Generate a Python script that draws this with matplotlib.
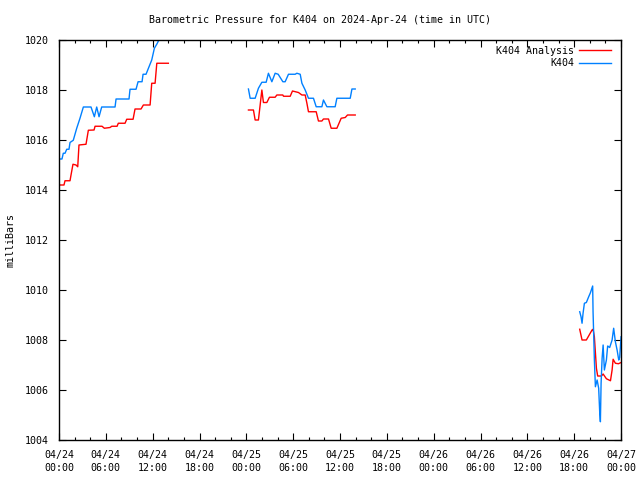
import numpy as np
import matplotlib
matplotlib.use('Agg')
import matplotlib.pyplot as plt
from matplotlib.ticker import MultipleLocator

# hours since 2024-04-24 00:00 UTC, three data segments each
ana_hours = [
    [0.13, 0.64, 0.77, 1.41, 1.54, 1.79, 2.18, 2.40, 2.56, 3.46, 3.76, 4.49, 4.62, 5.51,
     5.81, 6.54, 6.76, 7.44, 7.60, 8.46, 8.68, 9.49, 9.74, 10.51, 10.81, 11.67, 11.88,
     12.31, 12.53, 14.01],
    [24.27, 24.91, 25.13, 25.55, 25.77, 25.99, 26.19, 26.63, 26.96, 27.69, 27.91, 28.68,
     28.76, 29.62, 29.91, 30.68, 31.12, 31.54, 31.76, 31.96, 32.95, 33.24, 33.68, 33.88,
     34.53, 34.87, 35.60, 36.15, 36.67, 36.96, 37.95],
    [66.71, 67.01, 67.56, 68.29, 68.42, 68.59, 68.85, 69.01, 69.49, 69.71, 70.13, 70.65,
     70.86, 70.99, 71.28, 71.67, 72.01],
]
ana_mb = [
    [1014.2, 1014.2, 1014.37, 1014.37, 1014.6, 1015.03, 1015.0, 1014.93, 1015.8, 1015.83,
     1016.39, 1016.4, 1016.55, 1016.55, 1016.47, 1016.5, 1016.55, 1016.55, 1016.67,
     1016.67, 1016.83, 1016.83, 1017.24, 1017.24, 1017.4, 1017.4, 1018.27, 1018.27,
     1019.07, 1019.07],
    [1017.2, 1017.2, 1016.8, 1016.8, 1017.4, 1018.0, 1017.5, 1017.5, 1017.71, 1017.71,
     1017.8, 1017.8, 1017.75, 1017.75, 1017.96, 1017.9, 1017.8, 1017.8, 1017.47, 1017.13,
     1017.13, 1016.76, 1016.76, 1016.84, 1016.84, 1016.47, 1016.47, 1016.87, 1016.9,
     1017.0, 1017.0],
    [1008.43, 1008.0, 1008.0, 1008.4, 1008.43, 1008.13, 1006.87, 1006.56, 1006.56,
     1006.64, 1006.45, 1006.37, 1006.8, 1007.23, 1007.07, 1007.05, 1007.1],
]

obs_hours = [
    [0.13, 0.38, 0.55, 0.77, 0.99, 1.28, 1.41, 1.83, 2.27, 2.69, 3.12, 4.10, 4.53, 4.83,
     5.13, 5.47, 7.18, 7.31, 8.97, 9.10, 9.87, 10.13, 10.64, 10.77, 11.15, 11.88, 12.22,
     12.56, 12.95, 13.20],
    [24.27, 24.49, 25.13, 25.55, 25.99, 26.54, 26.83, 27.27, 27.69, 28.08, 28.68, 28.97,
     29.40, 30.26, 30.47, 30.90, 31.12, 31.54, 31.96, 32.60, 32.95, 33.68, 33.88, 34.32,
     35.38, 35.60, 37.31, 37.53, 37.95],
    [66.71, 66.88, 67.01, 67.14, 67.31, 67.56, 67.86, 68.08, 68.37, 68.42, 68.59, 68.72,
     68.94, 69.14, 69.27, 69.36, 69.45, 69.58, 69.71, 69.87, 70.13, 70.29, 70.55, 70.86,
     71.06, 71.28, 71.50, 71.71, 71.83, 72.01],
]
obs_mb = [
    [1015.24, 1015.24, 1015.47, 1015.47, 1015.63, 1015.63, 1015.9, 1015.99, 1016.47,
     1016.87, 1017.32, 1017.32, 1016.93, 1017.32, 1016.93, 1017.32, 1017.32, 1017.64,
     1017.64, 1018.03, 1018.03, 1018.33, 1018.33, 1018.63, 1018.63, 1019.2, 1019.67,
     1019.85, 1020.1, 1020.3],
    [1018.04, 1017.67, 1017.67, 1018.07, 1018.31, 1018.31, 1018.67, 1018.33, 1018.67,
     1018.63, 1018.33, 1018.33, 1018.63, 1018.63, 1018.67, 1018.63, 1018.27, 1018.0,
     1017.67, 1017.67, 1017.33, 1017.33, 1017.6, 1017.33, 1017.33, 1017.67, 1017.67,
     1018.04, 1018.04],
    [1009.13, 1008.93, 1008.67, 1009.07, 1009.47, 1009.5, 1009.73, 1009.89, 1010.16,
     1009.13, 1007.2, 1006.13, 1006.4, 1006.07, 1005.13, 1004.73, 1006.27, 1007.27,
     1007.8, 1006.8, 1007.2, 1007.76, 1007.7, 1008.0, 1008.47, 1007.93, 1007.6, 1007.2,
     1007.3, 1008.13],
]

tick_labels = ['04/24\n00:00', '04/24\n06:00', '04/24\n12:00', '04/24\n18:00',
               '04/25\n00:00', '04/25\n06:00', '04/25\n12:00', '04/25\n18:00',
               '04/26\n00:00', '04/26\n06:00', '04/26\n12:00', '04/26\n18:00',
               '04/27\n00:00']


def join(parts):
    # NaN between segments so the line breaks at data gaps
    out = []
    for i, p in enumerate(parts):
        if i:
            out.append(np.nan)
        out.extend(p)
    return np.array(out)


plt.rcParams['font.family'] = 'DejaVu Sans Mono'
plt.rcParams['font.size'] = 7.2

fig = plt.figure(figsize=(6.4, 4.8), dpi=100)
ax = fig.add_axes([59 / 640, 40 / 480, 562 / 640, 400 / 480])

ax.plot(join(ana_hours), join(ana_mb), color='#ff0000', lw=1, label='K404 Analysis')
ax.plot(join(obs_hours), join(obs_mb), color='#0080ff', lw=1, label='K404')

ax.set_xlim(0, 72)
ax.set_ylim(1004, 1020)
ax.set_xticks(np.arange(0, 73, 6))
ax.set_xticklabels(tick_labels, linespacing=1.45)
ax.xaxis.set_minor_locator(MultipleLocator(2))
ax.yaxis.set_major_locator(MultipleLocator(2))
ax.tick_params(which='both', direction='in', top=True, right=True, width=0.8)
ax.tick_params(which='major', length=5, pad=7)
ax.tick_params(which='minor', length=2.5)
ax.tick_params(axis='y', pad=7)
for s in ax.spines.values():
    s.set_linewidth(1)

ax.set_ylabel('milliBars')
ax.yaxis.set_label_coords(-43 / 562, 0.5)
fig.text(0.5, 1 - 20 / 480, 'Barometric Pressure for K404 on 2024-Apr-24 (time in UTC)',
         ha='center', va='center')

ax.legend(loc='upper right', bbox_to_anchor=(1, 1 + 4 / 400), frameon=False,
          markerfirst=False, handlelength=3.2, borderaxespad=0.7, borderpad=0.3,
          labelspacing=0.25, handletextpad=0.5)

fig.savefig('out.png', dpi=100)
